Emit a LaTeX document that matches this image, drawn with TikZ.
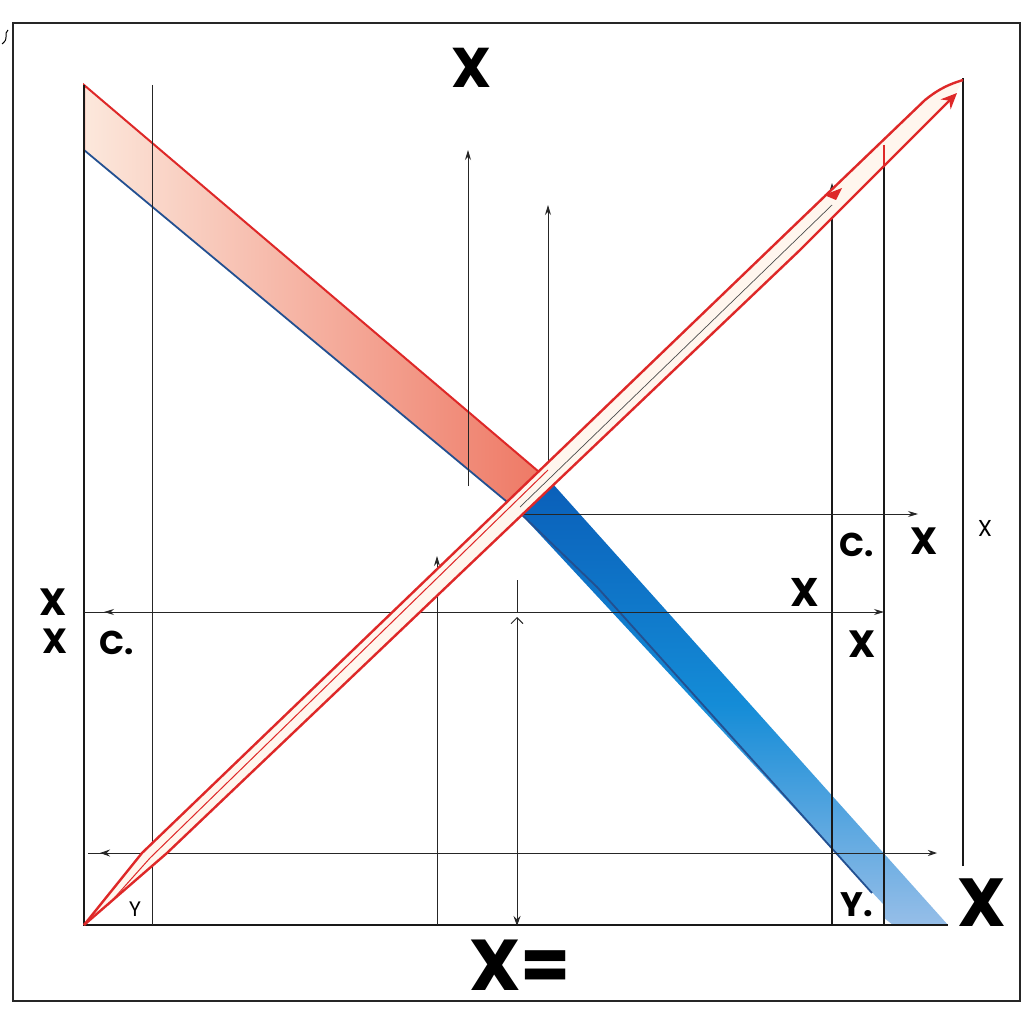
\documentclass[tikz,border=0pt]{standalone}
\usepackage{fontspec}
\setmainfont{Poppins}
\usetikzlibrary{arrows.meta}
\definecolor{redline}{RGB}{222,40,40}
\definecolor{blueline}{RGB}{35,80,145}
\definecolor{peach}{RGB}{252,232,220}
\definecolor{salmon}{RGB}{238,118,98}
\definecolor{deepblue}{RGB}{10,95,185}
\definecolor{midblue}{RGB}{20,140,215}
\definecolor{lightblue}{RGB}{150,190,232}
\definecolor{cream}{RGB}{255,246,238}
\begin{document}
\begin{tikzpicture}[x=1pt,y=-1pt,
  frame/.style={line width=2pt, black!85},
  axisline/.style={line width=1.6pt, black!90},
  thinline/.style={line width=0.9pt, black!85},
  uptip/.style={-{Stealth[length=10pt,width=6pt]}},
  redarrow/.style={line width=2.4pt, redline},
  lbl/.style={inner sep=0pt, text=black},
  bigb/.style={lbl, font=\bfseries\fontsize{#1}{#1}\selectfont},
  smallr/.style={lbl, font=\fontsize{#1}{#1}\selectfont}
]
\useasboundingbox (0,0) rectangle (1024,1024);
\fill[white] (0,0) rectangle (1024,1024);

% outer frame
\draw[frame] (13,1001) -- (13,23) -- (1020,23) -- (1020,1001) -- cycle;
\draw[line width=1pt] (8,30) .. controls (3,34) and (10,38) .. (2,44);

% red band (descending, upper part)
\shade[left color=peach, right color=salmon] (84,85) -- (552,483) -- (518,511) -- (84,150) -- cycle;
% blue band (descending, lower part)
\shade[top color=deepblue, bottom color=lightblue, middle color=midblue] (552,483) -- (948,925) -- (893,925) -- (884,918) -- (884,905) -- (518,511) -- cycle;
\draw[redline, line width=2pt] (84,150) -- (84,85) -- (552,483);
\draw[blueline, line width=1.8pt] (84,150) -- (518,511) -- (597,587) -- (872,893);

% inner axes
\coordinate (O) at (84,925);
\draw[axisline] (84,85) -- (O) -- (948,925);

% vertical guide lines
\draw[thinline] (152,85) -- (152,925);
\draw[thinline, uptip] (437,925) -- (437,556);
\draw[thinline, uptip] (468,486) -- (468,150);
\draw[thinline, uptip] (548,472) -- (548,205);
\draw[axisline] (832,925) -- (832,200);
\draw[thinline, uptip] (832,260) -- (832,183);
\draw[axisline] (884,925) -- (884,145);
\draw[axisline] (963,866) -- (963,78);
\draw[thinline] (517,580) -- (517,612);
\draw[thinline, -{Stealth[length=10pt,width=7pt]}] (517,900) -- (517,926);
\draw[thinline, {Straight Barb[length=6pt,width=12pt]}-] (517,617) -- (517,900);

% horizontal guide lines
\draw[thinline, -{Stealth[length=10pt,width=6pt]}] (520,514) -- (918,514);
\draw[thinline, -{Stealth[length=10pt,width=6pt]}] (520,612) -- (884,612);
\draw[thinline] (84,612) -- (520,612);
\draw[thinline, -{Stealth[length=10pt,width=6pt]}] (140,612) -- (104,612);
\draw[thinline, -{Stealth[length=9pt,width=6pt]}] (200,853) -- (937,853);
\draw[thinline] (88,853) -- (200,853);
\draw[thinline, -{Stealth[length=10pt,width=7pt]}] (130,853) -- (100,853);

% ascending red arrow
\fill[cream] (84,925) -- (142,853) -- (800,220) -- (925,100) .. controls (940,88) and (950,84) .. (963,80) -- (955,95) -- (800,250) -- (167,853) -- cycle;
\draw[redarrow] (84,925) -- (142,853) -- (800,220) -- (925,100) .. controls (940,88) and (950,84) .. (963,80);
\draw[redarrow, -{Stealth[length=16pt,width=14pt]}] (84,925) -- (167,853) -- (800,250) -- (957,93);
\draw[black!70, line width=0.7pt] (520,507) -- (832,205);
\draw[redline, line width=1pt] (108,905) -- (150,858) -- (548,470);
\fill[redline] (824,195) -- (842,188) -- (836,200) -- cycle;
\draw[redline, line width=1.2pt] (884,145) -- (884,165);

% labels
\node[bigb=56] (tx) at (472,68) {X};
\node[bigb=68] (rx) at (982,903) {X};
\node[bigb=72] (bx) at (520,965) {X=};
\node[smallr=23] (sx) at (985,528) {X};
\node[bigb=38] (x1) at (924,541) {X};
\node[bigb=33] (c1) at (857,545) {C.};
\node[bigb=40] (x2) at (805,592) {X};
\node[bigb=38] (x3) at (862,644) {X};
\node[bigb=38] (lx1) at (53,602) {X};
\node[bigb=35] (lx2) at (55,641) {X};
\node[bigb=33] (c2) at (117,643) {C.};
\node[smallr=21] (y1) at (135,909) {Y};
\node[bigb=34] (y2) at (857,905) {Y.};
\end{tikzpicture}
\end{document}
